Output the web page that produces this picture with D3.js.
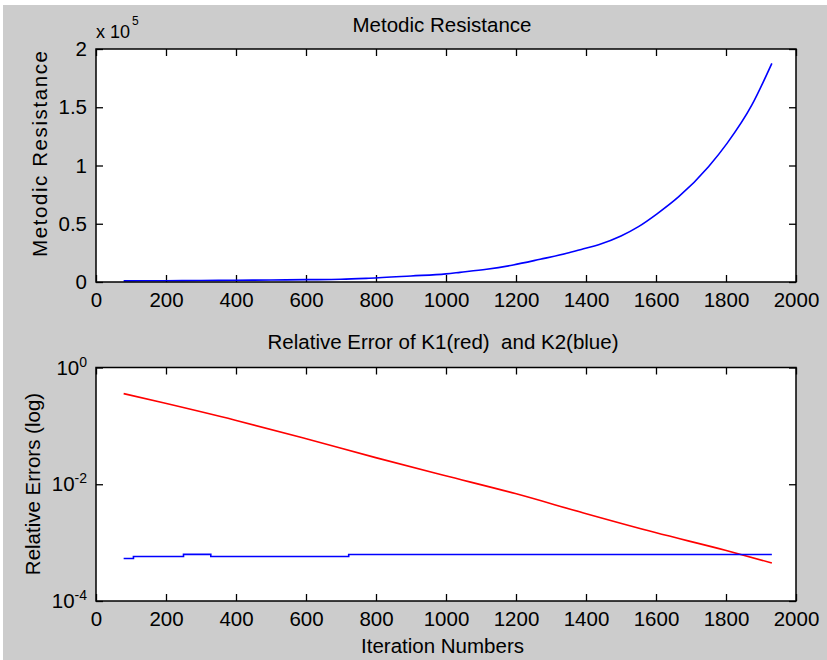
<!DOCTYPE html>
<html>
<head>
<meta charset="utf-8">
<script src="https://cdn.jsdelivr.net/npm/d3@7"></script>
<style>
  html, body { margin: 0; padding: 0; background: #ffffff; }
  svg { display: block; }
  text { font-family: Arial, "Liberation Sans", Helvetica, sans-serif; fill: #000; white-space: pre; }
</style>
</head>
<body>
<svg id="chart" width="827" height="660"></svg>
<script>
// ---- data ----
const iterTop = [79, 200, 300, 400, 500, 600, 700, 780, 900, 1000, 1040, 1116, 1192, 1269, 1345, 1393, 1436, 1500, 1550, 1603, 1665, 1750, 1803, 1874, 1931];
const resistance = [1000, 1100, 1300, 1500, 1700, 2000, 2300, 3200, 5200, 7000, 8300, 10900, 14600, 19500, 24600, 28500, 32000, 39500, 47500, 58500, 73200, 99000, 119000, 152000, 187700];

const iterRed = [79, 189, 398, 598, 799, 993, 1198, 1393, 1598, 1798, 1931];
const errK1 = [0.357, 0.251, 0.125, 0.0607, 0.0286, 0.01426, 0.00692, 0.00322, 0.001486, 0.00074, 0.000448];

const iterBlue = [79, 107, 250, 328, 722, 1931];
const errK2 = [0.000535, 0.00058, 0.00063, 0.00058, 0.000625, 0.000625];

const xTicks = [0, 200, 400, 600, 800, 1000, 1200, 1400, 1600, 1800, 2000];
const topYTicks = [0, 50000, 100000, 150000, 200000];
const topYLabels = ["0", "0.5", "1", "1.5", "2"];
const logTicks = [1e-4, 1e-2, 1];
const logExps = ["-4", "-2", "0"];

const titleTop = "Metodic Resistance";
const ylabelTop = "Metodic Resistance";
const titleBottom = "Relative Error of K1(red)  and K2(blue)";
const ylabelBottom = "Relative Errors (log)";
const xlabelBottom = "Iteration Numbers";

// ---- layout ----
const svg = d3.select("#chart");
const FS = 20.5;
svg.append("rect").attr("x", 3).attr("y", 5).attr("width", 824).attr("height", 655).attr("fill", "#cccccc");

const L = 96, R = 796;
const top1 = 49, bot1 = 282;
const top2 = 367.5, bot2 = 601;

const x = d3.scaleLinear().domain([0, 2000]).range([L, R]);
const y1 = d3.scaleLinear().domain([0, 200000]).range([bot1, top1]);
const y2 = d3.scaleLog().domain([1e-4, 1]).range([bot2, top2]);

function panel(yTop, yBot) {
  svg.append("rect").attr("x", L).attr("y", yTop).attr("width", R - L).attr("height", yBot - yTop)
    .attr("fill", "#ffffff");
}
panel(top1, bot1);
panel(top2, bot2);

function styleAxis(g) {
  g.select(".domain").remove();
  g.selectAll(".tick line").attr("stroke", "#000").attr("stroke-width", 1.3);
  g.selectAll(".tick text").style("font-size", FS + "px").attr("fill", "#000");
}

// ---- top plot axes ----
svg.append("g").attr("transform", `translate(0,${bot1})`)
  .call(d3.axisBottom(x).tickValues(xTicks).tickSizeInner(-7).tickSizeOuter(0).tickPadding(10).tickFormat(d3.format("d")))
  .call(styleAxis);
svg.append("g").attr("transform", `translate(0,${top1})`)
  .call(d3.axisTop(x).tickValues(xTicks).tickSizeInner(-7).tickSizeOuter(0).tickFormat(""))
  .call(styleAxis);
svg.append("g").attr("transform", `translate(${L},0)`)
  .call(d3.axisLeft(y1).tickValues(topYTicks).tickSizeInner(-7).tickSizeOuter(0).tickPadding(9)
    .tickFormat((d, i) => topYLabels[i]))
  .call(styleAxis);
svg.append("g").attr("transform", `translate(${R},0)`)
  .call(d3.axisRight(y1).tickValues(topYTicks).tickSizeInner(-7).tickSizeOuter(0).tickFormat(""))
  .call(styleAxis);

// ---- bottom plot axes ----
svg.append("g").attr("transform", `translate(0,${bot2})`)
  .call(d3.axisBottom(x).tickValues(xTicks).tickSizeInner(-7).tickSizeOuter(0).tickPadding(10).tickFormat(d3.format("d")))
  .call(styleAxis);
svg.append("g").attr("transform", `translate(0,${top2})`)
  .call(d3.axisTop(x).tickValues(xTicks).tickSizeInner(-7).tickSizeOuter(0).tickFormat(""))
  .call(styleAxis);
const yAx2 = svg.append("g").attr("transform", `translate(${L},0)`)
  .call(d3.axisLeft(y2).tickValues(logTicks).tickSizeInner(-7).tickSizeOuter(0).tickPadding(9).tickFormat(() => ""))
  .call(styleAxis);
yAx2.selectAll(".tick text").each(function(d, i) {
  const t = d3.select(this);
  t.text(null);
  t.append("tspan").text("10");
  t.append("tspan").attr("dy", -8).style("font-size", "14px").text(logExps[i]);
});
svg.append("g").attr("transform", `translate(${R},0)`)
  .call(d3.axisRight(y2).tickValues(logTicks).tickSizeInner(-7).tickSizeOuter(0).tickFormat(""))
  .call(styleAxis);

// ---- lines ----
const lineTop = d3.line().x(d => x(d[0])).y(d => y1(d[1])).curve(d3.curveMonotoneX);
svg.append("path").datum(iterTop.map((v, i) => [v, resistance[i]]))
  .attr("d", lineTop).attr("fill", "none").attr("stroke", "#0000ff").attr("stroke-width", 1.6);

const lineRed = d3.line().x(d => x(d[0])).y(d => y2(d[1])).curve(d3.curveMonotoneX);
svg.append("path").datum(iterRed.map((v, i) => [v, errK1[i]]))
  .attr("d", lineRed).attr("fill", "none").attr("stroke", "#ff0000").attr("stroke-width", 1.6);

const lineBlue = d3.line().x(d => x(d[0])).y(d => y2(d[1])).curve(d3.curveStepAfter);
svg.append("path").datum(iterBlue.map((v, i) => [v, errK2[i]]))
  .attr("d", lineBlue).attr("fill", "none").attr("stroke", "#0000ff").attr("stroke-width", 1.6);

// ---- boxes ----
[[top1, bot1], [top2, bot2]].forEach(([a, b]) => {
  svg.append("rect").attr("x", L).attr("y", a).attr("width", R - L).attr("height", b - a)
    .attr("fill", "none").attr("stroke", "#000").attr("stroke-width", 1.5);
});

// ---- texts ----
svg.append("text").attr("x", 442).attr("y", 32.3).attr("text-anchor", "middle")
  .style("font-size", FS + "px").text(titleTop);
svg.append("text").attr("x", 443).attr("y", 349.3).attr("text-anchor", "middle")
  .attr("xml:space", "preserve")
  .style("font-size", FS + "px").text(titleBottom);
svg.append("text").attr("x", 442.5).attr("y", 653).attr("text-anchor", "middle")
  .style("font-size", FS + "px").text(xlabelBottom);

svg.append("text").attr("transform", "translate(46.5,154) rotate(-90)").attr("text-anchor", "middle")
  .attr("textLength", 206).attr("lengthAdjust", "spacing")
  .style("font-size", FS + "px").text(ylabelTop);
svg.append("text").attr("transform", "translate(39.5,484) rotate(-90)").attr("text-anchor", "middle")
  .style("font-size", FS + "px").text(ylabelBottom);

// exponent multiplier
const mult = svg.append("text").attr("x", 96).attr("y", 38.3).style("font-size", "18px");
mult.append("tspan").text("x 10");
mult.append("tspan").attr("dy", -13).attr("dx", 2).style("font-size", "12px").text("5");
</script>
</body>
</html>
